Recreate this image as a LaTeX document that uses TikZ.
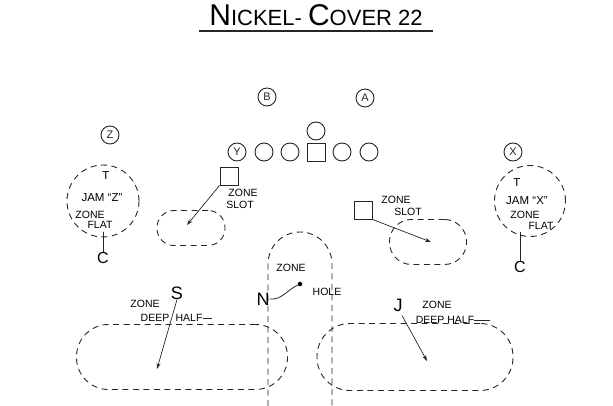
\documentclass[tikz,border=0pt]{standalone}
\usepackage{fontspec}
\setmainfont{Liberation Sans}
\usetikzlibrary{arrows.meta}
\begin{document}
\begin{tikzpicture}[x=1pt,y=1pt,
  ink/.style={line width=0.9pt, black!85},
  player/.style={circle, draw, ink, minimum size=18pt, inner sep=0pt, font=\fontsize{11}{11}\selectfont},
  sqbox/.style={rectangle, draw, ink, minimum size=18pt, inner sep=0pt},
  zdash/.style={draw, ink, dash pattern=on 6pt off 4.5pt},
  lbl/.style={font=\fontsize{10.5}{11}\selectfont, inner sep=0pt},
  big/.style={font=\fontsize{18}{18}\selectfont, inner sep=0pt},
  mid/.style={font=\fontsize{11.5}{11.5}\selectfont, inner sep=0pt},
  arr/.style={ink, line width=0.7pt, -{Stealth[length=6pt,width=4pt]}}
]
\useasboundingbox (0,0) rectangle (613,-406);
% title
\node[inner sep=0pt] (title) at (316,-15) {\fontsize{30}{30}\selectfont N\fontsize{22}{22}\selectfont ICKEL- \fontsize{30}{30}\selectfont C\fontsize{22}{22}\selectfont OVER 22};
\coordinate (ul1) at (199,-31);
\coordinate (ul2) at (433,-31);
\draw[ink, line width=1.3pt] (ul1) -- (ul2);

% backs
\node[player] (B) at (267,-97) {B};
\node[player] (A) at (365,-98) {A};
% line
\node[player] (Y) at (237,-152) {Y};
\node[player] (g1) at (264,-152) {};
\node[player] (g2) at (290,-152) {};
\node[sqbox] (ctr) at (316,-152) {};
\node[player] (qb) at (316,-131) {};
\node[player] (g3) at (342,-152) {};
\node[player] (g4) at (369,-152) {};

% Z side
\node[player] (Z) at (110,-135) {Z};
\node[circle, zdash, minimum size=72pt] (zc) at (103,-201) {};
\node[mid] (tz) at (106,-176) {T};
\node[mid] (jamz) at (102,-198) {JAM ``Z''};
\node[lbl] (zz) at (90,-215) {ZONE};
\node[lbl] (fz) at (100,-225) {FLAT};
\node[big, font=\fontsize{16}{16}\selectfont] (cz) at (103,-258) {C};
\coordinate (czs) at (103,-232);
\draw[ink] (czs) -- (cz.north);

% X side
\node[player] (X) at (513,-152) {X};
\node[circle, zdash, minimum size=71pt] (xc) at (530,-201) {};
\node[mid] (tx) at (517,-183) {T};
\node[mid] (jamx) at (527,-201) {JAM ``X''};
\node[lbl] (zx) at (525,-215) {ZONE};
\node[lbl] (fx) at (541,-226) {FLAT};
\node[big, font=\fontsize{16}{16}\selectfont] (cx) at (520,-267) {C};
\coordinate (cxs) at (520,-232);
\draw[ink] (cxs) -- (cx.north);

% left slot
\node[sqbox] (ls) at (229,-176) {};
\node[lbl] (lsz) at (243,-193) {ZONE};
\node[lbl] (lss) at (240,-205) {SLOT};
\node[rectangle, zdash, minimum width=68pt, minimum height=35pt, rounded corners=17pt] (lov) at (191,-228) {};
\coordinate (lstip) at (187,-225);
\draw[arr] (ls.south west) -- (lstip);

% right slot
\node[sqbox] (rs) at (363,-210) {};
\node[lbl] (rsz) at (396,-200) {ZONE};
\node[lbl] (rss) at (408,-212) {SLOT};
\node[rectangle, zdash, minimum width=77pt, minimum height=45pt, rounded corners=22pt] (rov) at (428,-242) {};
\coordinate (rstip) at (431,-242);
\draw[arr] (rs.south east) -- (rstip);

% N hole
\draw[ink, dash pattern=on 6pt off 4.5pt] (268,-406) -- (268,-264) arc (180:0:32) -- (332,-406);
\node[lbl] (hz) at (291,-268) {ZONE};
\node[lbl] (hh) at (327,-292) {HOLE};
\node[circle, fill=black, inner sep=1.6pt] (dot) at (300,-284) {};
\node[big] (N) at (263,-299) {N};
\draw[ink, line width=0.8pt] (N.east) to[out=-5, in=205] (dot);

% deep halves
\node[rectangle, zdash, minimum width=211pt, minimum height=65pt, rounded corners=32pt] (ldh) at (182,-357) {};
\node[rectangle, zdash, minimum width=196pt, minimum height=67pt, rounded corners=33pt] (rdh) at (415,-357) {};

\node[big] (S) at (177,-293) {S};
\node[lbl] (slbl) at (145,-304) {ZONE};
\node[lbl] (sdeep) at (155,-318) {DEEP};
\node[lbl] (shalf) at (189,-318) {HALF};
\draw[ink, line width=0.7pt] (shalf.east) -- ++(9,0);
\coordinate (stip) at (157,-369);
\draw[arr] (S.south) -- (stip);

\node[big] (J) at (398,-305) {J};
\node[lbl] (jlbl) at (437,-305) {ZONE};
\node[lbl] (jdh) at (445,-320) {DEEP HALF};
\draw[ink, line width=0.7pt] (jdh.east) -- ++(16,0);
\coordinate (jtip) at (427,-361);
\draw[arr] (J.south) ++(4,-4) -- (jtip);
\end{tikzpicture}
\end{document}
